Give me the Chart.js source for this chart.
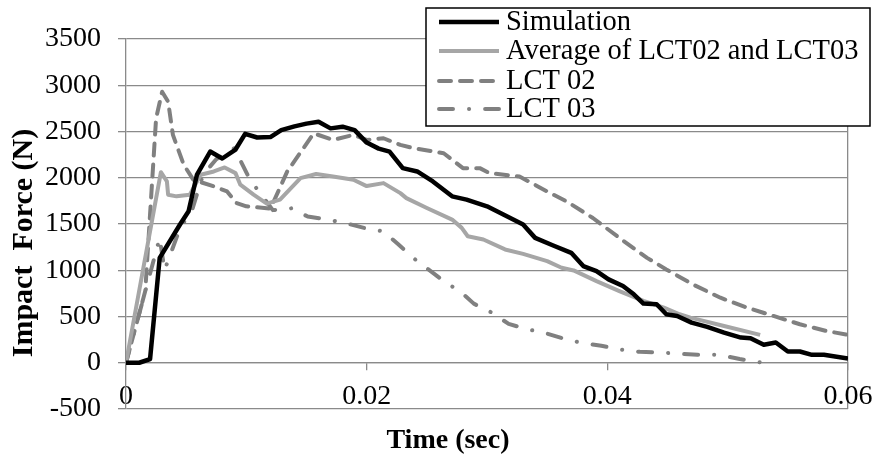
<!DOCTYPE html>
<html><head><meta charset="utf-8">
<script src="https://cdn.jsdelivr.net/npm/chart.js@4/dist/chart.umd.min.js"></script>
<style>html,body{margin:0;padding:0;background:#fff}#wrap{width:876px;height:458px;position:relative}</style>
</head><body><div id="wrap"><canvas id="c" width="876" height="458"></canvas></div>
<script>
// ---- data ----
const seriesNames = ['Simulation', 'Average of LCT02 and LCT03', 'LCT 02', 'LCT 03'];

const simTime  = [0, 0.0011, 0.002, 0.0028, 0.0045, 0.0052, 0.0059, 0.007, 0.008, 0.0091, 0.0099, 0.0109, 0.012, 0.0129, 0.014, 0.015, 0.016, 0.017, 0.018, 0.019, 0.02, 0.021, 0.0219, 0.023, 0.0242, 0.0255, 0.0271, 0.0283, 0.03, 0.0314, 0.033, 0.034, 0.0355, 0.037, 0.038, 0.0391, 0.0401, 0.0413, 0.0422, 0.043, 0.0441, 0.0449, 0.0458, 0.047, 0.0483, 0.0497, 0.0511, 0.0519, 0.053, 0.054, 0.055, 0.056, 0.057, 0.058, 0.06];
const simForce = [0, 0, 40, 1134, 1497, 1637, 2035, 2283, 2208, 2305, 2475, 2435, 2440, 2515, 2555, 2585, 2606, 2534, 2552, 2515, 2380, 2315, 2283, 2104, 2068, 1960, 1799, 1763, 1691, 1601, 1494, 1350, 1268, 1188, 1045, 991, 901, 829, 740, 640, 632, 524, 506, 434, 388, 326, 272, 266, 194, 219, 122, 122, 86, 86, 45];

const avgTime  = [0, 0.0029, 0.0034, 0.0035, 0.0042, 0.0053, 0.0062, 0.0073, 0.0082, 0.0091, 0.0095, 0.0106, 0.0117, 0.0128, 0.0145, 0.0158, 0.0172, 0.0189, 0.02, 0.0214, 0.0228, 0.0233, 0.025, 0.0271, 0.0279, 0.0284, 0.0297, 0.0315, 0.033, 0.035, 0.0362, 0.0372, 0.0391, 0.041, 0.043, 0.0447, 0.046, 0.0469, 0.0497, 0.0527];
const avgForce = [0, 2060, 1960, 1817, 1799, 1817, 2032, 2068, 2111, 2050, 1925, 1817, 1720, 1763, 1996, 2040, 2014, 1978, 1910, 1942, 1834, 1780, 1673, 1548, 1458, 1368, 1332, 1225, 1177, 1098, 1027, 998, 883, 775, 668, 596, 524, 488, 398, 301];

const lct02Time  = [0, 0.0016, 0.0025, 0.003, 0.0035, 0.0039, 0.0048, 0.0056, 0.0073, 0.0084, 0.0092, 0.01, 0.0109, 0.012, 0.0134, 0.0156, 0.0172, 0.0189, 0.02, 0.0214, 0.0228, 0.0239, 0.0264, 0.028, 0.0294, 0.0302, 0.0327, 0.035, 0.0366, 0.0388, 0.041, 0.0433, 0.0449, 0.0471, 0.0494, 0.0516, 0.0538, 0.056, 0.0582, 0.06];
const lct02Force = [0, 775, 2642, 2929, 2822, 2463, 2140, 1978, 1906, 1852, 1726, 1691, 1680, 1665, 2068, 2480, 2409, 2463, 2409, 2427, 2355, 2319, 2265, 2104, 2104, 2050, 2014, 1852, 1745, 1565, 1350, 1134, 1009, 847, 703, 596, 506, 416, 344, 301];

const lct03Time  = [0, 0.0028, 0.0032, 0.0045, 0.0055, 0.0064, 0.0075, 0.009, 0.0103, 0.0122, 0.0138, 0.0151, 0.0167, 0.0183, 0.0199, 0.0214, 0.0226, 0.0239, 0.0251, 0.0264, 0.0279, 0.0289, 0.0304, 0.0318, 0.0332, 0.0348, 0.0365, 0.0379, 0.0395, 0.0412, 0.0427, 0.0444, 0.046, 0.0475, 0.0493, 0.051, 0.0527];
const lct03Force = [0, 1350, 1000, 1457, 1655, 2032, 2200, 2320, 1980, 1650, 1670, 1580, 1550, 1507, 1454, 1420, 1283, 1130, 1012, 883, 757, 639, 542, 420, 366, 323, 255, 215, 183, 140, 118, 111, 97, 86, 86, 40, 5];

const xTickValues = [0, 0.02, 0.04, 0.06];
const yTickValues = [-500, 0, 500, 1000, 1500, 2000, 2500, 3000, 3500];
const xTitle = 'Time (sec)';
const yTitle = 'Impact  Force (N)';

// ---- build ----
const pts = (ts, vs) => ts.map((t, i) => ({x: t, y: vs[i]}));
const GRID = '#8a8a8a';
const SERIF = "'Liberation Serif', 'Times New Roman', serif";

const datasets = [
  {label: seriesNames[0], data: pts(simTime, simForce), borderColor: '#000000', borderWidth: 4.5, borderDash: []},
  {label: seriesNames[1], data: pts(avgTime, avgForce), borderColor: '#a6a6a6', borderWidth: 4, borderDash: []},
  {label: seriesNames[2], data: pts(lct02Time, lct02Force), borderColor: '#808080', borderWidth: 4, borderDash: [12, 9]},
  {label: seriesNames[3], data: pts(lct03Time, lct03Force), borderColor: '#808080', borderWidth: 4, borderDash: [14, 16, 0.1, 16]}
].map(d => Object.assign(d, {pointRadius: 0, pointHoverRadius: 0, fill: false, tension: 0,
  borderCapStyle: d.borderDash.length ? 'round' : 'butt', borderJoinStyle: 'round'}));
// draw order: LCT03, LCT02, Average, Simulation on top
datasets[0].order = 1; datasets[1].order = 2; datasets[2].order = 3; datasets[3].order = 4;

const boxLegend = {
  id: 'boxLegend',
  afterDatasetsDraw(chart) {
    const ctx = chart.ctx;
    const bx = 426, by = 8, bw = 444, bh = 118;
    const rowY = [22, 51, 81, 109];
    ctx.save();
    ctx.fillStyle = '#ffffff';
    ctx.fillRect(bx, by, bw, bh);
    ctx.strokeStyle = '#000000';
    ctx.lineWidth = 1.5;
    ctx.strokeRect(bx, by, bw, bh);
    chart.data.datasets.forEach((ds, i) => {
      const y = rowY[i];
      ctx.beginPath();
      ctx.setLineDash(ds.borderDash);
      ctx.lineCap = ds.borderCapStyle;
      ctx.lineWidth = ds.borderWidth;
      ctx.strokeStyle = ds.borderColor;
      ctx.moveTo(439, y);
      ctx.lineTo(499, y);
      ctx.stroke();
      ctx.setLineDash([]);
      ctx.fillStyle = '#000000';
      ctx.font = "28.5px " + SERIF;
      ctx.textBaseline = 'middle';
      ctx.textAlign = 'left';
      ctx.fillText(ds.label, 506, y + 1);
    });
    ctx.restore();
  }
};

const axisTitles = {
  id: 'axisTitles',
  afterDraw(chart) {
    const ctx = chart.ctx;
    ctx.save();
    ctx.fillStyle = '#000000';
    ctx.font = "bold 28px " + SERIF;
    ctx.textAlign = 'center';
    ctx.textBaseline = 'middle';
    ctx.fillText(xTitle, 448, 441);
    ctx.translate(24, 243);
    ctx.rotate(-Math.PI / 2);
    ctx.font = "bold 30px " + SERIF;
    ctx.fillText(yTitle, 0, 0);
    ctx.restore();
  }
};

new Chart(document.getElementById('c'), {
  type: 'line',
  data: {datasets},
  options: {
    responsive: false,
    animation: false,
    events: [],
    layout: {padding: {top: 39, right: 28, bottom: 49, left: 0}},
    plugins: {legend: {display: false}, tooltip: {enabled: false}, title: {display: false}},
    scales: {
      x: {
        type: 'linear',
        min: xTickValues[0],
        max: xTickValues[xTickValues.length - 1],
        position: {y: 0},
        afterBuildTicks: (s) => { s.ticks = xTickValues.map(v => ({value: v})); },
        afterFit: (s) => { s.paddingLeft = 0; s.paddingRight = 0; },
        ticks: {
          color: '#000000', font: {family: SERIF, size: 28}, padding: 10, maxRotation: 0,
          callback: (v) => String(v)
        },
        grid: {
          drawOnChartArea: true,
          color: (c) => (c.index === xTickValues.length - 1 ? GRID : 'rgba(0,0,0,0)'),
          tickColor: GRID, tickLength: 7, lineWidth: 1.3
        },
        border: {display: true, color: GRID, width: 1.3}
      },
      y: {
        type: 'linear',
        min: yTickValues[0],
        max: yTickValues[yTickValues.length - 1],
        afterBuildTicks: (s) => { s.ticks = yTickValues.map(v => ({value: v})); },
        afterFit: (s) => { s.width = 126; },
        ticks: {color: '#000000', font: {family: SERIF, size: 28}, padding: 17, callback: (v) => String(v)},
        grid: {color: GRID, tickColor: GRID, tickLength: 8, lineWidth: 1.3},
        border: {display: true, color: GRID, width: 1.3}
      }
    }
  },
  plugins: [boxLegend, axisTitles]
});
</script>
</body></html>
